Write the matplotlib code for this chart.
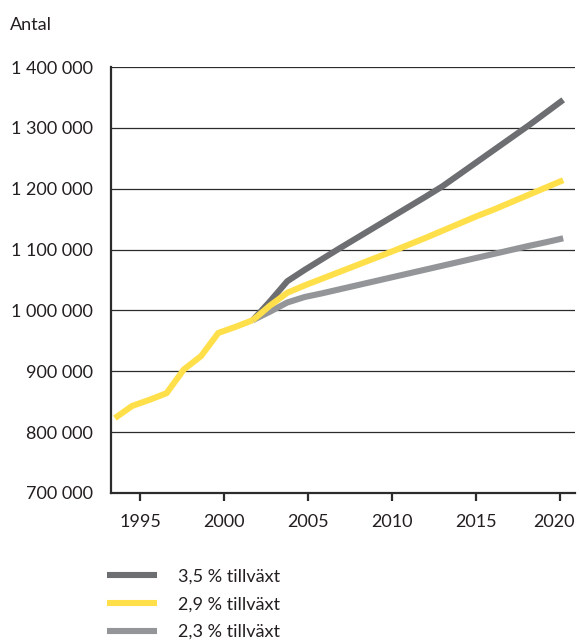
import matplotlib.pyplot as plt
import matplotlib.transforms as mtransforms
import numpy as np

plt.rcParams['font.family'] = ['Lato', 'DejaVu Sans']

years_hist = list(range(1994, 2003))
hist = [823000, 843000, 853000, 864000, 903000, 925000, 963000, 973000, 984000]

years_proj = list(range(2002, 2021))
high = [984000, 1015000, 1048000, 1066500, 1084000, 1101500, 1118500, 1135500,
        1152500, 1169500, 1186500, 1204000, 1224000, 1244000, 1264000, 1284000,
        1304000, 1325000, 1346000]
mid = [984000, 1008000, 1029000, 1041000, 1052000, 1063000, 1074000, 1085000,
       1096000, 1107500, 1119000, 1131000, 1143000, 1155000, 1166000, 1178000,
       1190000, 1202000, 1214000]
low = [984000, 998000, 1013000, 1022000, 1028000, 1034500, 1041000, 1047500,
       1054000, 1060500, 1067000, 1073500, 1080000, 1086500, 1093000, 1099500,
       1106000, 1112000, 1118500]

labels = ['3,5 % tillväxt', '2,9 % tillväxt', '2,3 % tillväxt']
colors = ['#6d6e71', '#ffe04b', '#939598']
ticks = [1995, 2000, 2005, 2010, 2015, 2020]
yticks = [700000, 800000, 900000, 1000000, 1100000, 1200000, 1300000, 1400000]

fs = 13


def pos(y):
    # data points sit slightly off the year ticks in the original
    return 1993.5 + (np.array(y) - 1994) * 26.7 / 26


fig = plt.figure(figsize=(5.79, 6.43), dpi=100)
ax = fig.add_axes([0.1917, 0.2333, 0.8013, 0.6625])

lw = 4.4
ax.plot(pos(years_proj), high, color=colors[0], lw=lw, solid_capstyle='butt', label=labels[0], zorder=3)
ax.plot(pos(years_proj), low, color=colors[2], lw=lw, solid_capstyle='butt', label=labels[2], zorder=3)
ax.plot(pos(years_proj), mid, color=colors[1], lw=lw, solid_capstyle='butt', label=labels[1], zorder=4)
ax.plot(pos(years_hist), hist, color=colors[1], lw=lw, solid_capstyle='butt', zorder=4)

ax.set_xlim(1993.27, 2020.9)
ax.set_ylim(700000, 1400000)
ax.set_xticks(ticks)
ax.set_xticklabels([str(t) for t in ticks])
ax.set_yticks(yticks)
ax.set_yticklabels([f'{v:,}'.replace(',', ' ') for v in yticks])

for v in yticks[1:]:
    ax.axhline(v, color='#2b2b2b', lw=0.9, zorder=1)

for s in ['top', 'right']:
    ax.spines[s].set_visible(False)
for s in ['left', 'bottom']:
    ax.spines[s].set_linewidth(1.6)
    ax.spines[s].set_color('#2b2b2b')

ax.tick_params(axis='y', length=0, pad=13, labelsize=fs, labelcolor='#231f20')
ax.tick_params(axis='x', length=6, width=1.6, color='#2b2b2b', pad=9,
               labelsize=fs, labelcolor='#231f20')

# last year label sits a little left of its tick in the original
last = ax.get_xticklabels()[-1]
last.set_transform(last.get_transform() +
                   mtransforms.ScaledTranslation(-6 / 100, 0, fig.dpi_scale_trans))

fig.text(10 / 579, 1 - 25 / 643, 'Antal', fontsize=fs, color='#231f20',
         ha='left', va='center')

h, l = ax.get_legend_handles_labels()
order = [0, 2, 1]
leg = fig.legend([h[i] for i in order], [l[i] for i in order],
                 loc='upper left', bbox_to_anchor=(100 / 579, 1 - 561 / 643),
                 frameon=False, fontsize=fs, handlelength=2.77,
                 handletextpad=1.16, labelspacing=0.66, borderaxespad=0)
for t in leg.get_texts():
    t.set_color('#231f20')

fig.savefig('out.png', dpi=100)
